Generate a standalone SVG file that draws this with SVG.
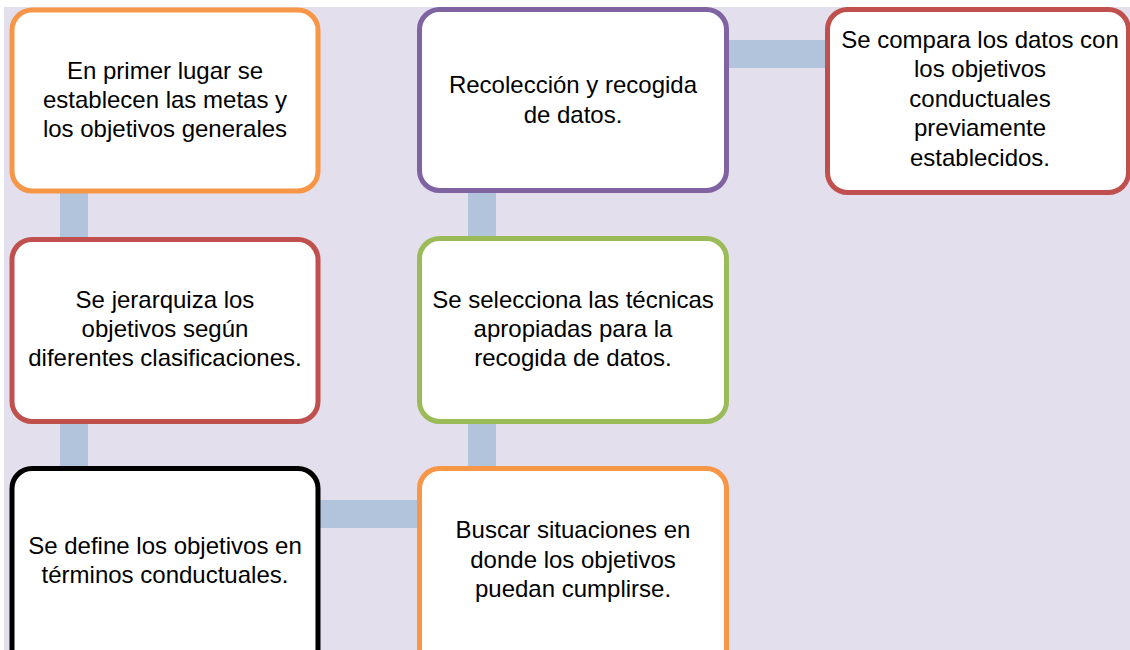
<svg xmlns="http://www.w3.org/2000/svg" width="1130" height="650" viewBox="0 0 1130 650">
<style>
.box{fill:#ffffff;stroke-width:5}
.conn{fill:#b2c3dc}
text{font-family:"Liberation Sans",Arial,sans-serif;font-size:24px;fill:#000;text-anchor:middle}
</style>
<rect x="0" y="0" width="1130" height="650" fill="#ffffff"/>
<rect x="4" y="7" width="1126" height="643" fill="#e4dfec"/>
<g id="connectors">
<rect class="conn" x="60" y="188" width="28" height="54"/>
<rect class="conn" x="60" y="420" width="28" height="50"/>
<rect class="conn" x="468" y="188" width="28" height="54"/>
<rect class="conn" x="468" y="420" width="28" height="50"/>
<rect class="conn" x="316" y="500" width="106" height="28"/>
<rect class="conn" x="725" y="40" width="104" height="28"/>
</g>
<g id="n1">
<rect class="box" x="12" y="10" width="306" height="181" rx="20" stroke="#f79646"/>
<text x="165" y="79">En primer lugar se</text>
<text x="165" y="108">establecen las metas y</text>
<text x="165" y="137">los objetivos generales</text>
</g>
<g id="n2">
<rect class="box" x="12" y="239.5" width="306" height="182" rx="20" stroke="#c0504d"/>
<text x="165" y="308">Se jerarquiza los</text>
<text x="165" y="337">objetivos según</text>
<text x="165" y="366">diferentes clasificaciones.</text>
</g>
<g id="n3">
<rect class="box" x="12" y="468.5" width="306" height="220" rx="20" stroke="#000000"/>
<text x="165" y="554">Se define los objetivos en</text>
<text x="165" y="583">términos conductuales.</text>
</g>
<g id="n4">
<rect class="box" x="419.5" y="468.5" width="307" height="220" rx="20" stroke="#f79646"/>
<text x="573" y="538">Buscar situaciones en</text>
<text x="573" y="568">donde los objetivos</text>
<text x="573" y="597">puedan cumplirse.</text>
</g>
<g id="n5">
<rect class="box" x="419.5" y="238.5" width="307" height="183" rx="20" stroke="#9bbb59"/>
<text x="573" y="308">Se selecciona las técnicas</text>
<text x="573" y="337">apropiadas para la</text>
<text x="573" y="366">recogida de datos.</text>
</g>
<g id="n6">
<rect class="box" x="419.5" y="9.5" width="307" height="181" rx="20" stroke="#8064a2"/>
<text x="573" y="93">Recolección y recogida</text>
<text x="573" y="123">de datos.</text>
</g>
<g id="n7">
<rect class="box" x="827.5" y="9.5" width="301" height="183" rx="20" stroke="#c0504d"/>
<text x="980" y="48">Se compara los datos con</text>
<text x="980" y="77">los objetivos</text>
<text x="980" y="107">conductuales</text>
<text x="980" y="136">previamente</text>
<text x="980" y="166">establecidos.</text>
</g>
</svg>
